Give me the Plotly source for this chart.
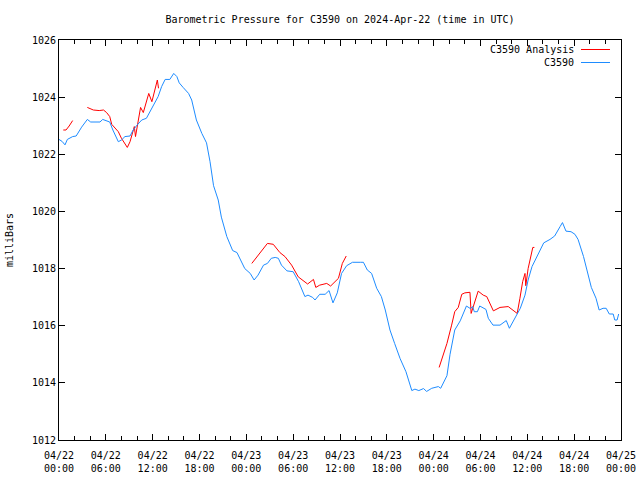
import pandas as pd
import plotly.graph_objects as go

# ---------------- data ----------------
start_time = "2024-04-22 00:00"

# C3590 observations: hours since start, pressure in mb
blue_hours = [0, 0.4, 0.77, 1.07, 1.75, 2.2, 2.9, 3.63, 4.06, 5.25,
              5.6, 6.1, 6.5, 6.9, 7.2, 7.6, 8.0, 8.45, 9.1, 9.5,
              10.0, 10.6, 11.2, 11.65, 12.3, 12.7, 13.15, 13.6, 14.2, 14.7,
              15.1, 15.4, 15.9, 16.6, 17.0, 17.6, 18.3, 18.9, 19.35, 19.8,
              20.4, 20.8, 21.5, 22.25, 22.8, 23.8, 24.5, 25.0, 25.5, 26.2,
              26.7, 27.2, 27.7, 28.1, 28.5, 29.2, 30.0, 30.7, 31.5, 31.9,
              32.5, 32.8, 33.4, 34.1, 34.6, 35.1, 35.65, 36.2, 36.85, 37.6,
              38.6, 39.0, 39.5, 40.05, 40.7, 41.3, 41.8, 42.4, 43.0, 43.7,
              44.45, 44.9, 45.2, 45.6, 46.1, 46.7, 47.1, 47.75, 48.6, 48.9,
              49.2, 49.7, 50.1, 50.5, 50.7, 51.4, 51.8, 52.2, 52.7, 53.0,
              53.2, 53.6, 53.9, 54.7, 55.0, 55.6, 56.5, 57.3, 57.7, 58.4,
              59.1, 59.7, 60.1, 60.6, 61.2, 61.6, 62.1, 62.9, 63.5, 64.2,
              64.5, 64.95, 65.6, 66.1, 66.5, 67.2, 67.6, 68.2, 68.8, 69.2,
              69.7, 70.1, 70.5, 71.0, 71.2, 71.5, 71.7]
blue_values = [1022.52, 1022.45, 1022.33, 1022.52, 1022.62, 1022.64, 1022.95, 1023.22, 1023.13, 1023.13,
               1023.22, 1023.16, 1023.13, 1022.85, 1022.67, 1022.44, 1022.5, 1022.62, 1022.64, 1022.85,
               1023.02, 1023.2, 1023.26, 1023.49, 1023.84, 1024.02, 1024.37, 1024.62, 1024.62, 1024.83,
               1024.72, 1024.5, 1024.34, 1024.13, 1023.9, 1023.2, 1022.73, 1022.4, 1021.74, 1020.9,
               1020.4, 1019.8, 1019.12, 1018.63, 1018.56, 1018.0, 1017.83, 1017.6, 1017.77, 1018.12,
               1018.18, 1018.36, 1018.39, 1018.36, 1018.12, 1017.92, 1017.89, 1017.54, 1017.02, 1017.07,
               1016.99, 1016.9, 1017.1, 1017.1, 1017.23, 1016.8, 1017.15, 1017.83, 1018.1, 1018.22,
               1018.22, 1018.22, 1017.95, 1017.83, 1017.31, 1017.02, 1016.55, 1015.85, 1015.38, 1014.85,
               1014.39, 1013.98, 1013.73, 1013.78, 1013.73, 1013.8, 1013.7, 1013.81, 1013.87, 1013.81,
               1013.98, 1014.25, 1015.0, 1015.5, 1015.85, 1016.17, 1016.43, 1016.69, 1016.6, 1016.67,
               1016.49, 1016.49, 1016.69, 1016.57, 1016.26, 1016.02, 1016.02, 1016.18, 1015.91, 1016.26,
               1016.61, 1017.07, 1017.6, 1018.07, 1018.42, 1018.67, 1018.9, 1019.02, 1019.14, 1019.47,
               1019.61, 1019.31, 1019.29, 1019.2, 1019.02, 1018.42, 1018.01, 1017.34, 1016.96, 1016.55,
               1016.61, 1016.61, 1016.41, 1016.41, 1016.2, 1016.2, 1016.41]

# C3590 Analysis: four separate segments (None = gap)
red_hours = [0.55, 0.9, 1.3, 1.75, None,
             3.63, 4.06, 4.4, 5.15, 5.7, 6.1, 6.5, 6.75, 7.2, 7.6, 8.0, 8.45, 8.75, 9.1,
             9.45, 9.65, 9.8, 10.0, 10.2, 10.45, 10.8, 11.2, 11.5, 11.9, 12.3, 12.6, 12.75, None,
             24.7, 25.75, 26.7, 27.45, 28.3, 28.95, 29.8, 30.65, 31.3, 31.85, 32.6, 32.9,
             33.4, 34.3, 34.8, 35.8, 36.3, 36.8, None,
             48.7, 49.7, 50.3, 50.7, 51.15, 51.6, 52.0, 52.65, 52.8, 53.1, 53.7, 54.35, 54.8,
             55.65, 56.5, 57.55, 58.2, 58.7, 59.05, 59.4, 59.7, 59.8, 60.1, 60.4, 60.7, 60.9]
red_values = [1022.85, 1022.85, 1022.99, 1023.18, None,
              1023.64, 1023.58, 1023.55, 1023.53, 1023.55, 1023.46, 1023.32, 1023.05, 1022.9, 1022.79,
              1022.56, 1022.38, 1022.24, 1022.44, 1022.79, 1022.97, 1022.62, 1022.95, 1023.22, 1023.64,
              1023.46, 1023.84, 1024.13, 1023.84, 1024.31, 1024.6, 1024.31, None,
              1018.18, 1018.53, 1018.88, 1018.85, 1018.56, 1018.42, 1018.12, 1017.71, 1017.56, 1017.46,
              1017.62, 1017.34, 1017.42, 1017.48, 1017.39, 1017.66, 1018.18, 1018.44, None,
              1014.54, 1015.38, 1016.02, 1016.49, 1016.64, 1017.1, 1017.15, 1017.17, 1016.43, 1016.67,
              1017.21, 1017.07, 1017.02, 1016.52, 1016.64, 1016.67, 1016.55, 1016.43, 1016.96, 1017.54,
              1017.83, 1017.4, 1018.0, 1018.36, 1018.74, 1018.74]

tick_hours = [0, 6, 12, 18, 24, 30, 36, 42, 48, 54, 60, 66, 72]
tick_labels = ["04/22<br>00:00", "04/22<br>06:00", "04/22<br>12:00", "04/22<br>18:00",
               "04/23<br>00:00", "04/23<br>06:00", "04/23<br>12:00", "04/23<br>18:00",
               "04/24<br>00:00", "04/24<br>06:00", "04/24<br>12:00", "04/24<br>18:00",
               "04/25<br>00:00"]
y_ticks = [1012, 1014, 1016, 1018, 1020, 1022, 1024, 1026]

series_names = ["C3590 Analysis", "C3590"]
series_colors = ["#ff0000", "#1e8cff"]

# ---------------- build ----------------
base = pd.Timestamp(start_time)


def to_time(h):
    return None if h is None else base + pd.Timedelta(hours=h)


FONT = "DejaVu Sans Mono"
FIG_W, FIG_H = 640, 480

fig = go.Figure()
fig.add_trace(go.Scatter(x=[to_time(h) for h in red_hours], y=red_values, mode="lines",
                         line=dict(color=series_colors[0], width=1), connectgaps=False,
                         name=series_names[0], showlegend=False))
fig.add_trace(go.Scatter(x=[to_time(h) for h in blue_hours], y=blue_values, mode="lines",
                         line=dict(color=series_colors[1], width=1),
                         name=series_names[1], showlegend=False))

# gnuplot-style key (text right-aligned, sample line on the right)
key_y = [0.97625, 0.94375]
for name, color, ky in zip(series_names, series_colors, key_y):
    fig.add_annotation(x=0.9195, y=ky, xref="paper", yref="paper", text=name,
                       showarrow=False, xanchor="right", yanchor="middle",
                       font=dict(family=FONT, size=10, color="black"))
    fig.add_shape(type="line", xref="paper", yref="paper", x0=0.9288, x1=0.9804,
                  y0=ky, y1=ky, line=dict(color=color, width=1))

fig.update_layout(
    width=FIG_W, height=FIG_H,
    margin=dict(l=59, r=19, t=40, b=40, autoexpand=False),
    paper_bgcolor="white", plot_bgcolor="white",
    font=dict(family=FONT, size=10, color="black"),
    title=dict(text="Barometric Pressure for C3590 on 2024-Apr-22 (time in UTC)",
               x=0.5, xref="paper", xanchor="center", y=1 - 19 / FIG_H, yanchor="middle",
               font=dict(family=FONT, size=10, color="black")),
    showlegend=False,
    hovermode=False,
)
fig.update_xaxes(
    type="date", automargin=False,
    range=[to_time(0), to_time(72)],
    tickvals=[to_time(h) for h in tick_hours], ticktext=tick_labels,
    showline=True, linecolor="black", linewidth=1, mirror="ticks",
    ticks="inside", ticklen=6, tickcolor="black", tickwidth=1,
    minor=dict(dtick=2 * 3600 * 1000, ticks="inside", ticklen=4, tickcolor="black"),
    showgrid=False, zeroline=False, ticklabelstandoff=6,
    tickfont=dict(family=FONT, size=10, color="black"),
)
fig.update_yaxes(
    automargin=False,
    range=[1012, 1026], tickvals=y_ticks, ticktext=[str(v) for v in y_ticks],
    showline=True, linecolor="black", linewidth=1, mirror="ticks",
    ticks="inside", ticklen=6, tickcolor="black", tickwidth=1,
    showgrid=False, zeroline=False,
    tickfont=dict(family=FONT, size=10, color="black"),
    title=dict(text="milliBars", standoff=16, font=dict(family=FONT, size=10, color="black")),
)

# remove the default 8px page margin so the 640x480 figure fills the window exactly
fig.write_html("out.html",
               config={"displayModeBar": False, "staticPlot": True},
               post_script="document.body.style.margin='0';document.body.style.overflow='hidden';")
